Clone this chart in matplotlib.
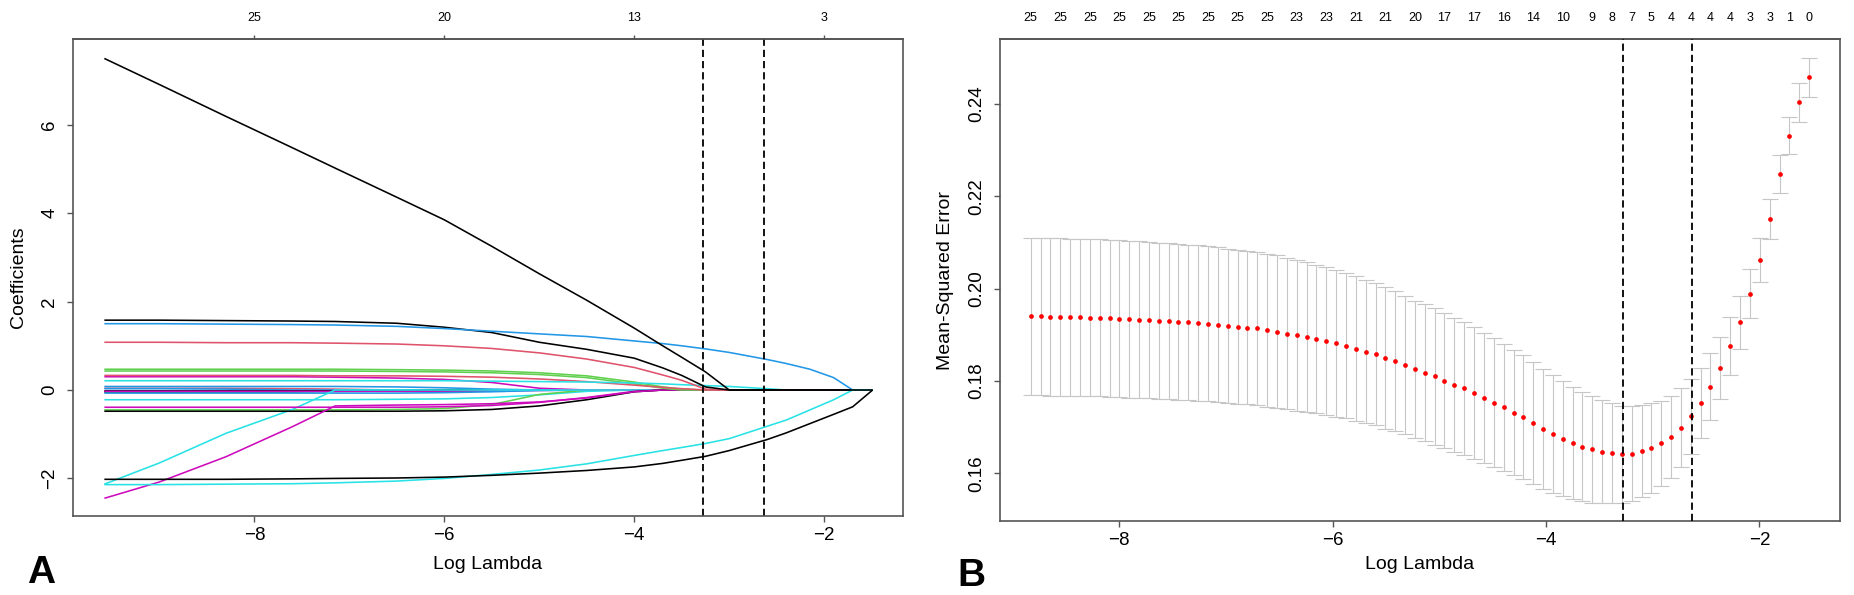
import matplotlib
matplotlib.use("Agg")
import matplotlib.pyplot as plt
import numpy as np

plt.rcParams['font.family'] = ['Liberation Sans', 'DejaVu Sans']

# ---------------- Panel A data: LASSO coefficient paths ----------------
log_lambda_A = [-9.58, -9.0, -8.3, -7.6, -7.15, -6.5, -6.0, -5.5, -5.0, -4.5, -4.0,
                -3.7, -3.5, -3.25, -3.0, -2.6, -2.4, -2.15, -1.9, -1.7, -1.49]

Z = 0.0
coef_paths = [
    # (colour name, values along log_lambda_A)
    ("red",     [0.04, 0.04, 0.04, 0.03, 0.02] + [Z]*16),
    ("green",   [-0.05, -0.05, -0.04, -0.03, -0.02] + [Z]*16),
    ("blue",    [0.03, 0.03, 0.02] + [Z]*18),
    ("black",   [-0.04, -0.04, -0.04, -0.04, -0.03, -0.02] + [Z]*15),
    ("black",   [-0.02, -0.02, -0.02, -0.02, -0.02, -0.02, -0.02, -0.01] + [Z]*13),
    ("magenta", [-0.03, -0.03, -0.03, -0.03, -0.03, -0.03, -0.03, -0.02, -0.01] + [Z]*12),
    ("blue",    [0.08, 0.08, 0.08, 0.08, 0.08, 0.07, 0.05, 0.02] + [Z]*13),
    ("blue",    [-0.07, -0.07, -0.07, -0.07, -0.07, -0.07, -0.06, -0.04, -0.01] + [Z]*12),
    ("cyan",    [-0.22, -0.22, -0.22, -0.22, -0.22, -0.21, -0.20, -0.17, -0.11, -0.03] + [Z]*11),
    ("green",   [-0.45, -0.45, -0.45, -0.45, -0.45, -0.44, -0.42, -0.33, -0.10] + [Z]*12),
    ("magenta", [0.30, 0.30, 0.30, 0.30, 0.29, 0.27, 0.24, 0.17, 0.04] + [Z]*12),
    ("cyan",    [-2.13, -1.65, -0.98, -0.44] + [Z]*17),
    ("magenta", [-0.39, -0.39, -0.39, -0.39, -0.39, -0.39, -0.38, -0.35, -0.28, -0.17, -0.03] + [Z]*10),
    ("black",   [-0.48, -0.48, -0.48, -0.48, -0.48, -0.48, -0.47, -0.44, -0.36, -0.22, -0.04] + [Z]*10),
    ("magenta", [-2.45, -2.08, -1.51, -0.83, -0.36, -0.34, -0.33, -0.31, -0.27, -0.18, -0.04] + [Z]*10),
    ("green",   [0.47, 0.47, 0.47, 0.47, 0.47, 0.46, 0.45, 0.43, 0.39, 0.32, 0.18, 0.07, 0.02] + [Z]*8),
    ("green",   [0.43, 0.43, 0.43, 0.43, 0.43, 0.42, 0.41, 0.39, 0.35, 0.28, 0.14, 0.04] + [Z]*9),
    ("red",     [0.33, 0.33, 0.33, 0.33, 0.32, 0.32, 0.31, 0.29, 0.25, 0.19, 0.11, 0.06, 0.03] + [Z]*8),
    ("cyan",    [0.21, 0.21, 0.21, 0.21, 0.21, 0.21, 0.21, 0.20, 0.19, 0.18, 0.16, 0.14, 0.12, 0.10,
                 0.08, 0.03] + [Z]*5),
    ("red",     [1.08, 1.08, 1.07, 1.07, 1.06, 1.04, 1.00, 0.94, 0.84, 0.70, 0.51, 0.34, 0.22, 0.02] + [Z]*7),
    ("black",   [1.58, 1.58, 1.57, 1.56, 1.55, 1.51, 1.42, 1.30, 1.08, 0.92, 0.72, 0.50, 0.33, 0.07] + [Z]*7),
    ("blue",    [1.50, 1.50, 1.49, 1.48, 1.47, 1.44, 1.39, 1.33, 1.27, 1.21, 1.11, 1.05, 1.00, 0.93,
                 0.85, 0.69, 0.60, 0.47, 0.28, 0.0, 0.0]),
    ("cyan",    [-2.14, -2.14, -2.13, -2.12, -2.10, -2.06, -2.00, -1.91, -1.81, -1.67, -1.48, -1.37,
                 -1.30, -1.21, -1.10, -0.82, -0.68, -0.45, -0.22, 0.0, 0.0]),
    ("black",   [-2.02, -2.02, -2.02, -2.01, -2.00, -1.99, -1.97, -1.93, -1.88, -1.82, -1.74, -1.66,
                 -1.59, -1.50, -1.37, -1.12, -0.97, -0.76, -0.55, -0.38, 0.0]),
    ("black",   [7.50, 6.91, 6.19, 5.48, 5.02, 4.36, 3.85, 3.25, 2.63, 2.03, 1.40, 1.00, 0.74, 0.41]
                + [Z]*7),
]

top_ticks_A = [-8, -6, -4, -2]
top_labels_A = ["25", "20", "13", "3"]

# ---------------- Panel B data: cross-validation MSE ----------------
log_lambda_B = [-8.830, -8.738, -8.645, -8.553, -8.461, -8.368, -8.276, -8.184, -8.091, -7.999,
                -7.907, -7.814, -7.722, -7.630, -7.537, -7.445, -7.353, -7.260, -7.168, -7.076,
                -6.983, -6.891, -6.799, -6.706, -6.614, -6.522, -6.429, -6.337, -6.245, -6.152,
                -6.060, -5.967, -5.875, -5.783, -5.690, -5.598, -5.506, -5.413, -5.321, -5.229,
                -5.136, -5.044, -4.952, -4.859, -4.767, -4.675, -4.582, -4.490, -4.398, -4.305,
                -4.213, -4.121, -4.028, -3.936, -3.844, -3.751, -3.659, -3.567, -3.474, -3.382,
                -3.290, -3.197, -3.105, -3.013, -2.920, -2.828, -2.736, -2.643, -2.551, -2.459,
                -2.366, -2.274, -2.182, -2.089, -1.997, -1.905, -1.812, -1.720, -1.628, -1.535]

cv_mse = [0.1940, 0.1940, 0.1939, 0.1939, 0.1938, 0.1938, 0.1937, 0.1937, 0.1936, 0.1935,
          0.1934, 0.1933, 0.1932, 0.1931, 0.1930, 0.1929, 0.1927, 0.1926, 0.1924, 0.1922,
          0.1920, 0.1918, 0.1916, 0.1914, 0.1910, 0.1907, 0.1903, 0.1899, 0.1896, 0.1891,
          0.1887, 0.1882, 0.1877, 0.1870, 0.1864, 0.1858, 0.1850, 0.1843, 0.1835, 0.1826,
          0.1818, 0.1810, 0.1801, 0.1792, 0.1784, 0.1774, 0.1763, 0.1753, 0.1743, 0.1732,
          0.1722, 0.1709, 0.1697, 0.1686, 0.1675, 0.1666, 0.1658, 0.1652, 0.1647, 0.1644,
          0.1642, 0.1643, 0.1649, 0.1656, 0.1665, 0.1679, 0.1699, 0.1724, 0.1753, 0.1788,
          0.1829, 0.1876, 0.1927, 0.1989, 0.2062, 0.2152, 0.2249, 0.2331, 0.2404, 0.2458]

cv_se = [0.01703, 0.01703, 0.01703, 0.01703, 0.01703, 0.01703, 0.01703, 0.01703, 0.01703, 0.01700,
         0.01700, 0.01696, 0.01696, 0.01692, 0.01689, 0.01689, 0.01685, 0.01681, 0.01678, 0.01674,
         0.01671, 0.01667, 0.01663, 0.01660, 0.01656, 0.01653, 0.01642, 0.01631, 0.01620, 0.01609,
         0.01598, 0.01588, 0.01577, 0.01566, 0.01552, 0.01541, 0.01530, 0.01515, 0.01497, 0.01483,
         0.01487, 0.01479, 0.01465, 0.01451, 0.01436, 0.01422, 0.01414, 0.01393, 0.01375, 0.01360,
         0.01339, 0.01321, 0.01299, 0.01281, 0.01248, 0.01220, 0.01180, 0.01151, 0.01119, 0.01082,
         0.01050, 0.01025, 0.01003, 0.00974, 0.00924, 0.00884, 0.00852, 0.00812, 0.00761, 0.00722,
         0.00675, 0.00631, 0.00581, 0.00530, 0.00480, 0.00433, 0.00410, 0.00400, 0.00422, 0.00422]

top_idx_B = [0, 3, 6, 9, 12, 15, 18, 21, 24, 27, 30, 33, 36, 39, 42, 45, 48, 51, 54, 57,
             59, 61, 63, 65, 67, 69, 71, 73, 75, 77, 79]
top_nzero_B = [25, 25, 25, 25, 25, 25, 25, 25, 25, 23, 23, 21, 21, 20, 17, 17, 16, 14, 10, 9,
               8, 7, 5, 4, 4, 4, 4, 3, 3, 1, 0]

log_lambda_min = -3.28
log_lambda_1se = -2.63

palette = {"black": "#000000", "red": "#DF536B", "green": "#61D04F",
           "blue": "#2297E6", "cyan": "#28E2E5", "magenta": "#CD0BBC"}

# ---------------- Figure ----------------
W, H = 1854, 595
fig = plt.figure(figsize=(W / 100, H / 100), dpi=100)
fig.patch.set_facecolor("white")

axA = fig.add_axes([73 / W, (H - 516) / H, (903 - 73) / W, (516 - 39) / H])
axB = fig.add_axes([1000 / W, (H - 521) / H, (1840 - 1000) / W, (521 - 39) / H])

spine_col = "#555555"
tick_fs = 13.5
label_fs = 14

def style_axes(ax):
    for s in ax.spines.values():
        s.set_color(spine_col)
        s.set_linewidth(1.2)
    ax.tick_params(axis="both", direction="out", length=4, width=1.0, color=spine_col,
                   labelsize=tick_fs, labelcolor="black")
    ax.tick_params(axis="x", pad=4)
    ax.tick_params(axis="y", pad=6.5, labelrotation=90)
    for lab in ax.get_yticklabels():
        lab.set_va("center")

# ---- Panel A ----
for cname, vals in coef_paths:
    axA.plot(log_lambda_A, vals, color=palette[cname], lw=1.15, solid_capstyle="butt")
axA.set_xlim(-9.91, -1.17)
axA.set_ylim(-2.85, 7.94)
axA.set_xticks([-8, -6, -4, -2])
axA.set_yticks([-2, 0, 2, 4, 6])
for xv in (log_lambda_min, log_lambda_1se):
    axA.axvline(xv, color="black", lw=1.3, linestyle=(0, (4, 2.2)))
style_axes(axA)
axA.set_xlabel("Log Lambda", fontsize=label_fs)
axA.set_ylabel("Coefficients", fontsize=label_fs)
axA.xaxis.set_label_coords(0.5, -0.084)
axA.yaxis.set_label_coords(-0.0554, 0.5)
secA = axA.secondary_xaxis("top")
secA.set_xticks(top_ticks_A, top_labels_A)
secA.tick_params(axis="x", direction="out", length=3, width=1.0, color=spine_col,
                 labelsize=9, pad=8)
secA.spines["top"].set_color(spine_col)
secA.spines["top"].set_linewidth(1.2)

# ---- Panel B ----
axB.errorbar(log_lambda_B, cv_mse, yerr=cv_se, fmt="none", ecolor="#c6c6c6",
             elinewidth=0.8, capsize=6, capthick=0.8, zorder=1)
axB.plot(log_lambda_B, cv_mse, linestyle="none", marker="o", markersize=3.4,
         color="#ff0000", markeredgewidth=0, zorder=2)
for xv in (log_lambda_min, log_lambda_1se):
    axB.axvline(xv, color="black", lw=1.3, linestyle=(0, (4, 2.2)), zorder=3)
axB.set_xlim(-9.118, -1.245)
axB.set_ylim(0.1497, 0.2541)
axB.set_xticks([-8, -6, -4, -2])
axB.set_yticks([0.16, 0.18, 0.20, 0.22, 0.24])
axB.set_yticklabels(["0.16", "0.18", "0.20", "0.22", "0.24"])
style_axes(axB)
axB.set_xlabel("Log Lambda", fontsize=label_fs)
axB.set_ylabel("Mean-Squared Error", fontsize=label_fs)
axB.xaxis.set_label_coords(0.5, -0.0726)
axB.yaxis.set_label_coords(-0.0542, 0.5)
secB = axB.secondary_xaxis("top")
secB.set_xticks([log_lambda_B[i] for i in top_idx_B], [str(v) for v in top_nzero_B])
secB.tick_params(axis="x", length=0, labelsize=9, pad=11)
secB.spines["top"].set_color(spine_col)
secB.spines["top"].set_linewidth(1.2)

# Panel letters
fig.text(41 / W, 1 - 573 / H, "A", fontsize=28, fontweight="bold", ha="center", va="center")
fig.text(971 / W, 1 - 576 / H, "B", fontsize=28, fontweight="bold", ha="center", va="center")

fig.savefig("out.png", dpi=100, facecolor="white")
